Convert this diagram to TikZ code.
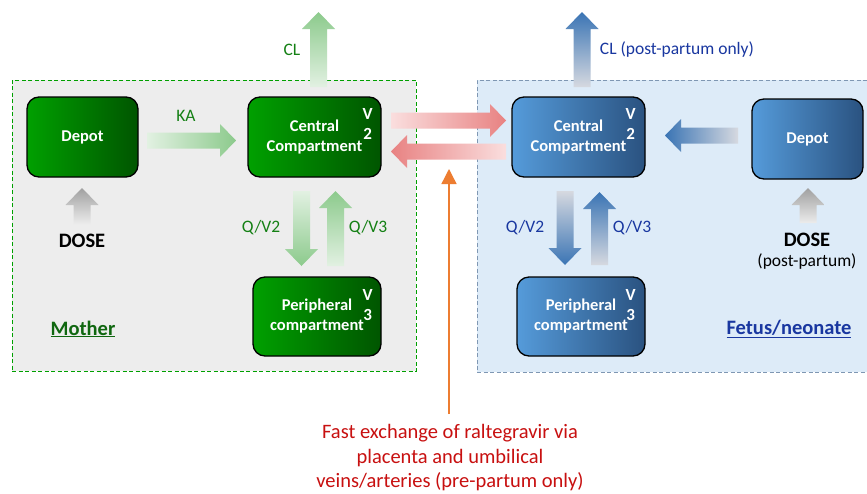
\documentclass[tikz,border=0pt]{standalone}
\usepackage{fontspec}
\setmainfont{Carlito}
\usetikzlibrary{arrows.meta,positioning,calc}

\definecolor{glight}{RGB}{0,160,0}
\definecolor{gdark}{RGB}{0,85,0}
\definecolor{blight}{RGB}{85,155,218}
\definecolor{bdark}{RGB}{42,82,128}
\definecolor{garrow}{RGB}{140,202,140}
\definecolor{garrowl}{RGB}{226,241,226}
\definecolor{barrow}{RGB}{58,116,180}
\definecolor{barrowl}{RGB}{214,217,224}
\definecolor{rarrow}{RGB}{232,130,130}
\definecolor{rarrowl}{RGB}{250,222,222}
\definecolor{dosegray}{RGB}{160,160,160}
\definecolor{dosegrayl}{RGB}{236,236,236}
\definecolor{gtext}{RGB}{20,128,20}
\definecolor{btext}{RGB}{25,55,160}
\definecolor{rtext}{RGB}{200,16,16}
\definecolor{oline}{RGB}{237,125,49}

% fat block arrows: cross position, tail, tip, tail colour, tip colour
\newcommand{\fatup}[5]{\shade[bottom color=#4, top color=#5] (#1-8.5,#2) -- (#1+8.5,#2) -- (#1+8.5,#3+17) -- (#1+16.5,#3+17) -- (#1,#3) -- (#1-16.5,#3+17) -- (#1-8.5,#3+17) -- cycle;}
\newcommand{\fatdown}[5]{\shade[top color=#4, bottom color=#5] (#1-8.5,#2) -- (#1+8.5,#2) -- (#1+8.5,#3-17) -- (#1+16.5,#3-17) -- (#1,#3) -- (#1-16.5,#3-17) -- (#1-8.5,#3-17) -- cycle;}
\newcommand{\fatright}[5]{\shade[left color=#4, right color=#5] (#2,#1-8) -- (#3-16,#1-8) -- (#3-16,#1-16.5) -- (#3,#1) -- (#3-16,#1+16.5) -- (#3-16,#1+8) -- (#2,#1+8) -- cycle;}
\newcommand{\fatleft}[5]{\shade[right color=#4, left color=#5] (#2,#1-8) -- (#3+16,#1-8) -- (#3+16,#1-16.5) -- (#3,#1) -- (#3+16,#1+16.5) -- (#3+16,#1+8) -- (#2,#1+8) -- cycle;}

\begin{document}
\begin{tikzpicture}[x=1pt, y=-1pt, font=\fontsize{17.5}{20}\selectfont,
  box/.style={draw=black, line width=1.3pt, rounded corners=12pt, minimum width=133pt, minimum height=80pt, align=center, text=white, font=\fontsize{16.5}{20}\selectfont\bfseries},
  gbox/.style={box, left color=glight, right color=gdark},
  bbox/.style={box, left color=blight, right color=bdark},
  vlab/.style={text=white, align=center, inner sep=0pt, font=\fontsize{17}{20}\selectfont\bfseries},
  glab/.style={text=gtext},
  blab/.style={text=btext},
  dose/.style={font=\fontsize{20.5}{22}\selectfont\bfseries}]
  \useasboundingbox[fill=white] (0,0) rectangle (867,493);

  % the two compartments
  \node[draw=glight, dash pattern=on 4pt off 2.5pt, fill=black!7, minimum width=404pt, minimum height=291pt] (mother) at (214,225.5) {};
  \node[draw=bdark!60, dash pattern=on 4pt off 2.5pt, fill=blight!20, minimum width=400pt, minimum height=292pt] (fetus) at (677,226) {};

  % mother side
  \node[gbox, minimum width=111pt] (gdepot) at (82.5,137) {Depot};
  \node[gbox] (gcentral) at (314.5,137) {Central\\Compartment};
  \node[gbox, minimum width=128pt, minimum height=79pt] (gperiph) at (317,316.5) {Peripheral\\compartment};
  \node[vlab] (gcentralv) at ($(gcentral.north east)+(-14,28)$) {V\\2};
  \node[vlab] (gperiphv) at ($(gperiph.north east)+(-14,28.5)$) {V\\3};

  \fatup{318.5}{87}{12}{garrowl}{garrow}
  \fatright{140.5}{147}{236}{garrowl}{garrow}
  \fatdown{301.5}{191}{266}{garrowl}{garrow}
  \fatup{335.5}{266}{191}{garrowl}{garrow}
  \fatup{82}{224}{188}{dosegrayl}{dosegray}

  \node[glab] (gcl) at (292,50) {CL};
  \node[glab] (gka) at (186,116) {KA};
  \node[glab] (gq2) at (261,228) {Q/V2};
  \node[glab] (gq3) at (368,228) {Q/V3};
  \node[dose] (gdose) at (82,241) {DOSE};
  \node[text=gtext!80!black, font=\fontsize{20.5}{22}\selectfont\bfseries] (mlabel) at (83,329) {\underline{Mother}};

  % fetus side
  \node[bbox] (bcentral) at (578.5,137) {Central\\Compartment};
  \node[bbox, minimum width=128pt, minimum height=79pt] (bperiph) at (581,316.5) {Peripheral\\compartment};
  \node[bbox, minimum width=111pt] (bdepot) at (807.5,139) {Depot};
  \node[vlab] (bcentralv) at ($(bcentral.north east)+(-15,28)$) {V\\2};
  \node[vlab] (bperiphv) at ($(bperiph.north east)+(-15,28.5)$) {V\\3};

  \fatup{582}{87}{12}{barrowl}{barrow}
  \fatleft{135.5}{738}{665}{barrowl}{barrow}
  \fatdown{565}{191}{265}{barrowl}{barrow}
  \fatup{599.5}{265}{192}{barrowl}{barrow}
  \fatup{808}{223}{188}{dosegrayl}{dosegray}

  \node[blab] (bcl) at (677,50) {CL (post-partum only)};
  \node[blab] (bq2) at (525,228) {Q/V2};
  \node[blab] (bq3) at (632,228) {Q/V3};
  \node[dose] (bdose) at (807,240) {DOSE};
  \node[inner sep=0pt] (bdosenote) at (807,262) {(post-partum)};
  \node[text=btext, font=\fontsize{20.5}{22}\selectfont\bfseries] (flabel) at (789,329) {\underline{Fetus/neonate}};

  % exchange between mother and fetus
  \fatright{120.5}{391}{506}{rarrowl}{rarrow}
  \fatleft{151.5}{506}{391}{rarrowl}{rarrow}

  \node[text=rtext, align=center, anchor=north, font=\fontsize{20.5}{24.5}\selectfont] (note) at (450,421) {Fast exchange of raltegravir via\\placenta and umbilical\\veins/arteries (pre-partum only)};
  \coordinate (exch) at (449,169);
  \draw[oline, line width=1.4pt, -{Triangle[width=15pt,length=15pt]}] ($(note.north)+(-1,-7)$) -- (exch);
\end{tikzpicture}
\end{document}
